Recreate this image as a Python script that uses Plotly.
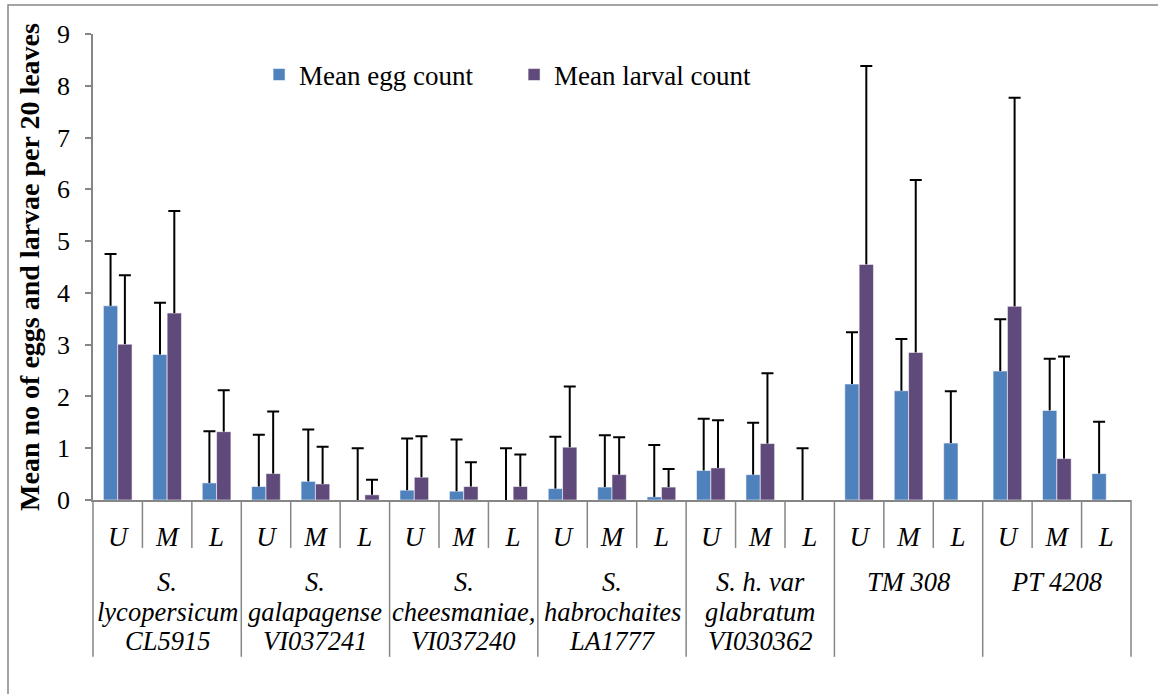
import plotly.graph_objects as go

# ---------------- data ----------------
groups = [
    ["S.", "lycopersicum", "CL5915"],
    ["S.", "galapagense", "VI037241"],
    ["S.", "cheesmaniae,", "VI037240"],
    ["S.", "habrochaites", "LA1777"],
    ["S. h. var", "glabratum", "VI030362"],
    ["TM 308"],
    ["PT 4208"],
]
positions = ["U", "M", "L"]

egg_mean = [3.75, 2.81, 0.33,
            0.26, 0.36, 0.00,
            0.19, 0.17, 0.00,
            0.22, 0.25, 0.06,
            0.57, 0.49, 0.00,
            2.24, 2.11, 1.10,
            2.49, 1.73, 0.51]
egg_err = [1.0, 1.0, 1.0,
           1.0, 1.0, 1.0,
           1.0, 1.0, 1.0,
           1.0, 1.0, 1.0,
           1.0, 1.0, 1.0,
           1.0, 1.0, 1.0,
           1.0, 1.0, 1.0]

larva_mean = [3.01, 3.61, 1.32,
              0.51, 0.31, 0.10,
              0.44, 0.26, 0.26,
              1.02, 0.49, 0.25,
              0.62, 1.09, 0.00,
              4.55, 2.85, 0.00,
              3.74, 0.80, 0.00]
larva_err = [1.33, 1.97, 0.80,
             1.20, 0.72, 0.29,
             0.79, 0.47, 0.62,
             1.17, 0.72, 0.35,
             0.92, 1.36, None,
             3.83, 3.33, None,
             4.03, 1.97, None]

y_ticks = list(range(0, 10))

# ---------------- styling ----------------
BLUE = "#4F81BD"
PURPLE = "#604A7B"
AXIS = "#868686"
SERIF = "Liberation Serif"

n_cat = len(groups) * len(positions)
x_idx = list(range(n_cat))
x_text = positions * len(groups)


def tops(mean, err):
    return [m + e if e is not None else None for m, e in zip(mean, err)]


def plus(err):
    return [e if e is not None else 0 for e in err]


fig = go.Figure()

for name, mean, err, color, og in [
    ("Mean egg count", egg_mean, egg_err, BLUE, "egg"),
    ("Mean larval count", larva_mean, larva_err, PURPLE, "larva"),
]:
    fig.add_trace(go.Bar(
        x=x_idx, y=mean, name=name, offsetgroup=og,
        marker=dict(color=color, line=dict(color="rgba(255,255,255,0.55)", width=1)),
        error_y=dict(type="data", symmetric=False, array=plus(err),
                     arrayminus=[0] * n_cat, color="black", thickness=2, width=0),
    ))
    # invisible companion bars carrying only the error-bar caps
    fig.add_trace(go.Bar(
        x=x_idx, y=tops(mean, err), offsetgroup=og, showlegend=False,
        hoverinfo="skip",
        marker=dict(color="rgba(0,0,0,0)", line=dict(width=0)),
        error_y=dict(type="data", array=[0] * n_cat, color="black",
                     thickness=2, width=6),
    ))

# ---------------- decorations ----------------
shapes = []
annotations = []
cat_w = 1.0 / n_cat
# separators between every category (short) and between groups (long)
for b in range(n_cat + 1):
    long = (b % len(positions) == 0)
    shapes.append(dict(type="line", xref="paper", yref="paper",
                       x0=b * cat_w, x1=b * cat_w, y0=0,
                       y1=-(157 if long else 48) / 466.5,
                       line=dict(color=AXIS, width=1.5)))

# group labels
line_offsets = [-82, -112, -141]
for g, lines in enumerate(groups):
    for k, txt in enumerate(lines):
        annotations.append(dict(
            x=g * len(positions) + 1, xref="x", y=0, yref="paper",
            yshift=line_offsets[k], text=txt, showarrow=False,
            xanchor="center", yanchor="middle",
            font=dict(family=SERIF, size=26.5, color="black", style="italic")))

# outer chart frame (extends beyond right and bottom edges)
shapes.append(dict(type="rect", xref="paper", yref="paper",
                   x0=(8 - 93) / 1038, x1=(1200 - 93) / 1038,
                   y0=(500.5 - 720) / 466.5, y1=(500.5 - 5) / 466.5,
                   line=dict(color=AXIS, width=1.5), layer="below"))

fig.update_layout(
    width=1158, height=694,
    margin=dict(l=93, r=27, t=34, b=193.5),
    paper_bgcolor="white", plot_bgcolor="white",
    barmode="group", bargap=0.42, bargroupgap=0,
    shapes=shapes, annotations=annotations,
    font=dict(family=SERIF, color="black"),
    legend=dict(orientation="h", x=0.16, y=0.912, xanchor="left",
                yanchor="middle", font=dict(family=SERIF, size=27, color="black"),
                entrywidth=210, entrywidthmode="pixels",
                bgcolor="rgba(0,0,0,0)", traceorder="normal"),
    showlegend=True,
)
fig.update_xaxes(range=[-0.5, n_cat - 0.5], tickmode="array", tickvals=x_idx,
                 ticktext=x_text, ticks="", showgrid=False, zeroline=False,
                 showline=True, linecolor=AXIS, linewidth=1.5,
                 tickfont=dict(family=SERIF, size=27, color="black", style="italic"),
                 ticklabelstandoff=12, fixedrange=True)
fig.update_yaxes(range=[0, 9], tickmode="array", tickvals=y_ticks, ticks="outside",
                 ticklen=6, tickcolor=AXIS, tickwidth=1.5, showgrid=False,
                 zeroline=False, showline=True, linecolor=AXIS, linewidth=1.5,
                 tickfont=dict(family=SERIF, size=26, color="black"),
                 ticklabelstandoff=10,
                 title=dict(text="<b>Mean no of eggs and larvae per 20 leaves</b>",
                            font=dict(family=SERIF, size=28, color="black"),
                            standoff=9),
                 automargin=False)

fig.write_html("out.html")
